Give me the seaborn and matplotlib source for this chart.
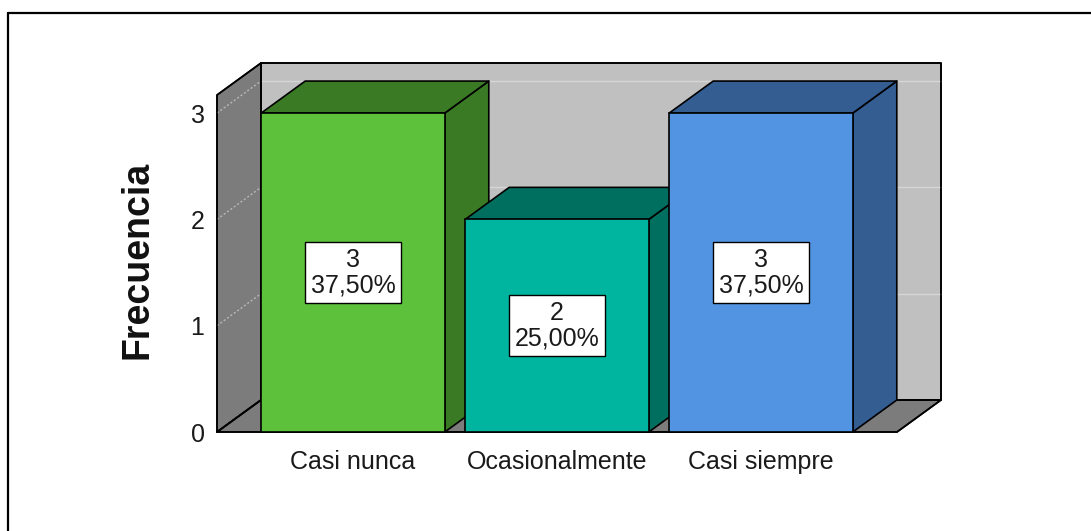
import matplotlib
matplotlib.use("Agg")
import matplotlib.pyplot as plt
from matplotlib.patches import Polygon
from matplotlib.lines import Line2D
import numpy as np
import seaborn as sns

# Frequency table
categories = ["Casi nunca", "Ocasionalmente", "Casi siempre"]
counts = [3, 2, 3]
front_colors = ["#5DC13B", "#00B5A0", "#5294E2"]
shade_colors = ["#3B7A25", "#006F60", "#345D92"]
y_ticks = [0, 1, 2, 3]

total = sum(counts)
percents = [c / total * 100 for c in counts]

W, H, DPI = 1091, 531, 100
sns.set_theme(style="white")
plt.rcParams["font.family"] = ["Liberation Sans", "DejaVu Sans"]

fig = plt.figure(figsize=(W / DPI, H / DPI), dpi=DPI)
fig.patch.set_facecolor("white")

# front plane of the 3D box, in pixels
left_px, right_px, bottom_px, top_px = 217, 897, 432, 95
ax = fig.add_axes([left_px / W, 1 - bottom_px / H,
                   (right_px - left_px) / W, (bottom_px - top_px) / H])
ax.set_facecolor("none")

sns.barplot(x=categories, y=counts, hue=categories, palette=front_colors,
            legend=False, width=0.9, saturation=1, edgecolor="black",
            linewidth=1.2, ax=ax)

xmin, xmax = -2 / 3, 2 + 2 / 3
ymin, ymax = 0, 3.17
ax.set_xlim(xmin, xmax)
ax.set_ylim(ymin, ymax)

# depth of the box expressed in data units (44 px right, 32 px up)
depth_px = np.array([44.0, 32.0])
inv = ax.transData.inverted()
p0 = inv.transform(ax.transData.transform((0, 0)))
p1 = inv.transform(ax.transData.transform((0, 0)) + depth_px)
ddx, ddy = p1 - p0

edge_kw = dict(edgecolor="black", linewidth=1.2, clip_on=False,
               joinstyle="round")

# walls and floor
back = Polygon([(xmin + ddx, ddy), (xmax + ddx, ddy),
                (xmax + ddx, ymax + ddy), (xmin + ddx, ymax + ddy)],
               facecolor="#C0C0C0", zorder=0.1, **edge_kw)
left_wall = Polygon([(xmin, 0), (xmin + ddx, ddy),
                     (xmin + ddx, ymax + ddy), (xmin, ymax)],
                    facecolor="#7C7C7C", zorder=0.2, **edge_kw)
floor = Polygon([(xmin, 0), (xmax, 0), (xmax + ddx, ddy), (xmin + ddx, ddy)],
                facecolor="#7C7C7C", zorder=0.2, **edge_kw)
for p in (back, left_wall, floor):
    ax.add_patch(p)

# grid lines on the walls
for v in y_ticks:
    if v > 0:
        ax.plot([xmin + ddx, xmax + ddx], [v + ddy, v + ddy], color="#D6D6D6",
                lw=1.0, zorder=0.3, clip_on=False)
    ax.plot([xmin, xmin + ddx], [v, v + ddy], color="#B8B8B8", lw=1.0,
            ls=(0, (1.5, 1.5)), zorder=0.3, clip_on=False)
# redraw wall outlines over grid
for p in (back, left_wall, floor):
    q = Polygon(p.get_xy(), facecolor="none", zorder=0.4, **edge_kw)
    ax.add_patch(q)

# 3D bars: side and top faces behind each front face
bars = list(ax.patches[:len(counts)])
for i, bar in enumerate(bars):
    x0 = bar.get_x()
    x1 = x0 + bar.get_width()
    h = bar.get_height()
    z = 2 + 3 * i
    side = Polygon([(x1, 0), (x1 + ddx, ddy), (x1 + ddx, h + ddy), (x1, h)],
                   facecolor=shade_colors[i], zorder=z, **edge_kw)
    top = Polygon([(x0, h), (x1, h), (x1 + ddx, h + ddy), (x0 + ddx, h + ddy)],
                  facecolor=shade_colors[i], zorder=z, **edge_kw)
    ax.add_patch(side)
    ax.add_patch(top)
    bar.set_zorder(z + 1)
    bar.set_clip_on(False)
    label = f"{counts[i]}\n{percents[i]:.2f}%".replace(".", ",")
    ax.text((x0 + x1) / 2, h / 2, label, ha="center", va="center",
            multialignment="center", fontsize=18, linespacing=1.08,
            color="#1A1A1A", zorder=z + 2,
            bbox=dict(boxstyle="square,pad=0.24", facecolor="white",
                      edgecolor="black", linewidth=1.0))

for s in ax.spines.values():
    s.set_visible(False)
ax.set_yticks(y_ticks)
ax.set_yticklabels([str(t) for t in y_ticks])
ax.tick_params(axis="both", length=0, labelsize=18, colors="#1A1A1A")
ax.tick_params(axis="y", pad=9)
ax.tick_params(axis="x", pad=13)
ax.set_xlabel("")
ax.set_ylabel("Frecuencia", fontsize=27, fontweight="bold", color="#111111")
ax.yaxis.label.set_verticalalignment("center")
ax.yaxis.set_label_coords((137 - left_px) / (right_px - left_px), 0.51)

# outer frame
fx, fy = 7.5 / W, 1 - 12.5 / H
fig.add_artist(Line2D([fx, fx], [0, fy], color="black", lw=1.6))
fig.add_artist(Line2D([fx, 1], [fy, fy], color="black", lw=1.6))

fig.savefig("out.png", dpi=DPI, facecolor="white")
